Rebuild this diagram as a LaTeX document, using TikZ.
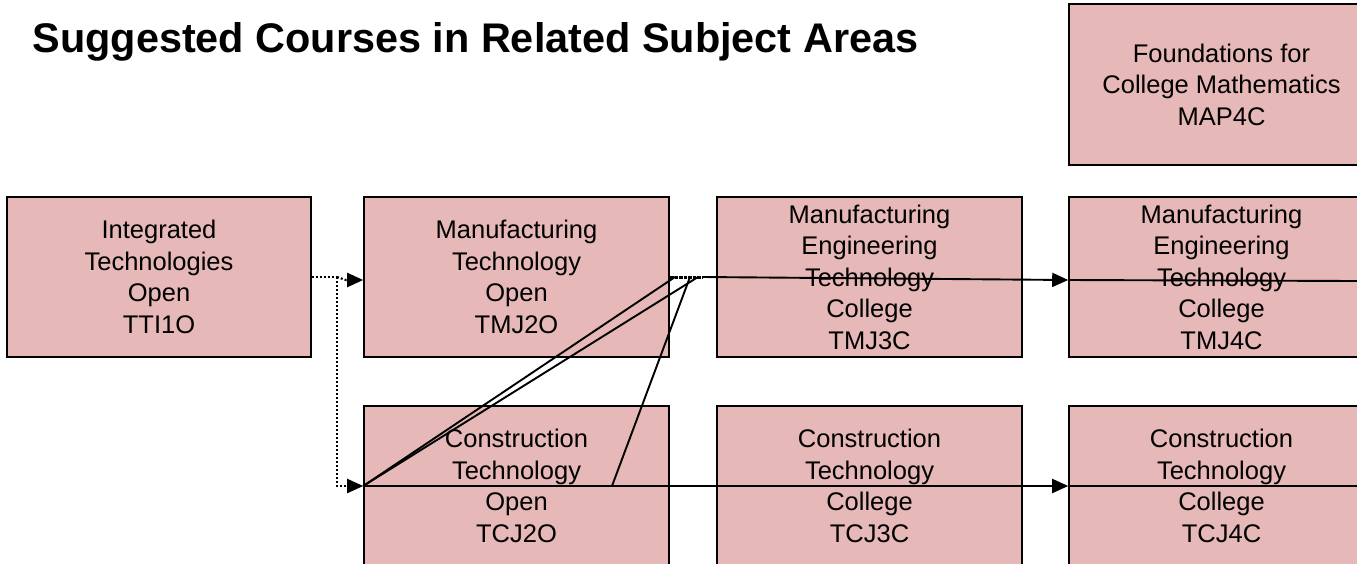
\documentclass[tikz,border=0pt]{standalone}
\usepackage{fontspec}
\setmainfont{Liberation Sans}
\usetikzlibrary{arrows.meta}
\definecolor{boxfill}{RGB}{230,184,183}
\tikzset{
  course/.style={draw=black, line width=1.6pt, fill=boxfill, rectangle,
    minimum width=305pt, minimum height=160pt, inner sep=0pt, align=center,
    font=\fontsize{25.5}{31.5}\selectfont, text=black},
  dotline/.style={line width=2.2pt, dash pattern=on 2pt off 2pt},
  heavydots/.style={line width=3pt, dash pattern=on 3.5pt off 1pt},
  conn/.style={line width=1.9pt},
  tip/.style={-{Triangle[length=16pt,width=14pt]}}
}
\begin{document}
\begin{tikzpicture}[x=1pt,y=-1pt]
\useasboundingbox (0,0) rectangle (1357,563);
\clip (0,0) rectangle (1357,563);
\fill[white] (0,0) rectangle (1357,563);

\node[anchor=base west, font=\bfseries\fontsize{41.4}{48}\selectfont] (title) at (29,52) {Suggested Courses in Related Subject Areas};

\node[course, minimum height=161pt] (MAP4C) at (1221.5,84.5) {Foundations for\\College Mathematics\\MAP4C};

\node[course, minimum width=304pt] (TTI1O) at (159,277) {Integrated\\Technologies\\Open\\TTI1O};
\node[course] (TMJ2O) at (516.5,277) {Manufacturing\\Technology\\Open\\TMJ2O};
\node[course] (TMJ3C) at (869.5,277) {Manufacturing\\Engineering\\Technology\\College\\TMJ3C};
\node[course] (TMJ4C) at (1221.5,277) {Manufacturing\\Engineering\\Technology\\College\\TMJ4C};

\node[course] (TCJ2O) at (516.5,486) {Construction\\Technology\\Open\\TCJ2O};
\node[course] (TCJ3C) at (869.5,486) {Construction\\Technology\\College\\TCJ3C};
\node[course] (TCJ4C) at (1221.5,486) {Construction\\Technology\\College\\TCJ4C};

% dotted connectors from TTI1O
\coordinate (d1) at (337,277);
\draw[dotline] (TTI1O.east) -- (d1);
\draw[dotline, tip] (d1) -- (346,280) -- ([yshift=-3pt]TMJ2O.west);
\draw[dotline, tip] (d1) |- (TCJ2O.west);

% solid connectors
\coordinate (s0) at (670,277);
\coordinate (s1) at (703,277);
\coordinate (a1) at (675,277);
\coordinate (a2) at (698,277);
\coordinate (a3) at (690,277);
\coordinate (b3) at (612,486);
\coordinate (e1) at (1357,281);
\coordinate (e2) at (1357,486);

\draw[heavydots] (s0) -- (s1);
\draw[conn, tip] (s1) -- ([yshift=-3pt]TMJ4C.west);
\draw[conn] ([yshift=-3pt]TMJ4C.west) -- (e1);
\draw[conn] (a1) -- (TCJ2O.west);
\draw[conn] (a2) -- (TCJ2O.west);
\draw[conn] (a3) -- (b3);
\draw[conn, tip] (TCJ2O.west) -- (TCJ4C.west);
\draw[conn] (TCJ4C.west) -- (e2);
\end{tikzpicture}
\end{document}
